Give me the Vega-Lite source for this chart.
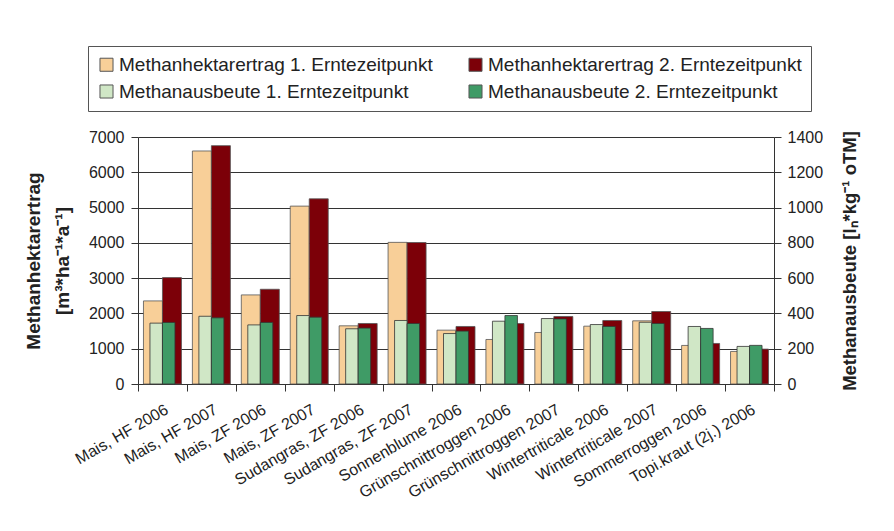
{
  "$schema": "https://vega.github.io/schema/vega-lite/v6.json",
  "width": 636,
  "height": 247,
  "autosize": {"type": "none"},
  "padding": {"left": 138, "top": 137, "right": 120, "bottom": 147},
  "background": "white",
  "config": {
    "font": "Liberation Sans",
    "view": {"stroke": null},
    "axis": {"labelFont": "Liberation Sans", "titleFont": "Liberation Sans", "labelColor": "#222", "titleColor": "#222", "domainColor": "#333", "tickColor": "#333"}
  },
  "data": {"values": [
    {"cat": "Mais, HF 2006", "series": "Methanhektarertrag 1. Erntezeitpunkt", "grp": "E", "value": 2355},
    {"cat": "Mais, HF 2006", "series": "Methanhektarertrag 2. Erntezeitpunkt", "grp": "E", "value": 3015},
    {"cat": "Mais, HF 2006", "series": "Methanausbeute 1. Erntezeitpunkt", "grp": "A", "value": 345},
    {"cat": "Mais, HF 2006", "series": "Methanausbeute 2. Erntezeitpunkt", "grp": "A", "value": 349},
    {"cat": "Mais, HF 2007", "series": "Methanhektarertrag 1. Erntezeitpunkt", "grp": "E", "value": 6604},
    {"cat": "Mais, HF 2007", "series": "Methanhektarertrag 2. Erntezeitpunkt", "grp": "E", "value": 6755},
    {"cat": "Mais, HF 2007", "series": "Methanausbeute 1. Erntezeitpunkt", "grp": "A", "value": 384},
    {"cat": "Mais, HF 2007", "series": "Methanausbeute 2. Erntezeitpunkt", "grp": "A", "value": 375},
    {"cat": "Mais, ZF 2006", "series": "Methanhektarertrag 1. Erntezeitpunkt", "grp": "E", "value": 2525},
    {"cat": "Mais, ZF 2006", "series": "Methanhektarertrag 2. Erntezeitpunkt", "grp": "E", "value": 2685},
    {"cat": "Mais, ZF 2006", "series": "Methanausbeute 1. Erntezeitpunkt", "grp": "A", "value": 335},
    {"cat": "Mais, ZF 2006", "series": "Methanausbeute 2. Erntezeitpunkt", "grp": "A", "value": 349},
    {"cat": "Mais, ZF 2007", "series": "Methanhektarertrag 1. Erntezeitpunkt", "grp": "E", "value": 5041},
    {"cat": "Mais, ZF 2007", "series": "Methanhektarertrag 2. Erntezeitpunkt", "grp": "E", "value": 5248},
    {"cat": "Mais, ZF 2007", "series": "Methanausbeute 1. Erntezeitpunkt", "grp": "A", "value": 388},
    {"cat": "Mais, ZF 2007", "series": "Methanausbeute 2. Erntezeitpunkt", "grp": "A", "value": 379},
    {"cat": "Sudangras, ZF 2006", "series": "Methanhektarertrag 1. Erntezeitpunkt", "grp": "E", "value": 1649},
    {"cat": "Sudangras, ZF 2006", "series": "Methanhektarertrag 2. Erntezeitpunkt", "grp": "E", "value": 1715},
    {"cat": "Sudangras, ZF 2006", "series": "Methanausbeute 1. Erntezeitpunkt", "grp": "A", "value": 313},
    {"cat": "Sudangras, ZF 2006", "series": "Methanausbeute 2. Erntezeitpunkt", "grp": "A", "value": 317},
    {"cat": "Sudangras, ZF 2007", "series": "Methanhektarertrag 1. Erntezeitpunkt", "grp": "E", "value": 4014},
    {"cat": "Sudangras, ZF 2007", "series": "Methanhektarertrag 2. Erntezeitpunkt", "grp": "E", "value": 4010},
    {"cat": "Sudangras, ZF 2007", "series": "Methanausbeute 1. Erntezeitpunkt", "grp": "A", "value": 360},
    {"cat": "Sudangras, ZF 2007", "series": "Methanausbeute 2. Erntezeitpunkt", "grp": "A", "value": 343},
    {"cat": "Sonnenblume 2006", "series": "Methanhektarertrag 1. Erntezeitpunkt", "grp": "E", "value": 1526},
    {"cat": "Sonnenblume 2006", "series": "Methanhektarertrag 2. Erntezeitpunkt", "grp": "E", "value": 1630},
    {"cat": "Sonnenblume 2006", "series": "Methanausbeute 1. Erntezeitpunkt", "grp": "A", "value": 286},
    {"cat": "Sonnenblume 2006", "series": "Methanausbeute 2. Erntezeitpunkt", "grp": "A", "value": 300},
    {"cat": "Grünschnittroggen 2006", "series": "Methanhektarertrag 1. Erntezeitpunkt", "grp": "E", "value": 1262},
    {"cat": "Grünschnittroggen 2006", "series": "Methanhektarertrag 2. Erntezeitpunkt", "grp": "E", "value": 1715},
    {"cat": "Grünschnittroggen 2006", "series": "Methanausbeute 1. Erntezeitpunkt", "grp": "A", "value": 356},
    {"cat": "Grünschnittroggen 2006", "series": "Methanausbeute 2. Erntezeitpunkt", "grp": "A", "value": 388},
    {"cat": "Grünschnittroggen 2007", "series": "Methanhektarertrag 1. Erntezeitpunkt", "grp": "E", "value": 1460},
    {"cat": "Grünschnittroggen 2007", "series": "Methanhektarertrag 2. Erntezeitpunkt", "grp": "E", "value": 1913},
    {"cat": "Grünschnittroggen 2007", "series": "Methanausbeute 1. Erntezeitpunkt", "grp": "A", "value": 371},
    {"cat": "Grünschnittroggen 2007", "series": "Methanausbeute 2. Erntezeitpunkt", "grp": "A", "value": 369},
    {"cat": "Wintertriticale 2006", "series": "Methanhektarertrag 1. Erntezeitpunkt", "grp": "E", "value": 1639},
    {"cat": "Wintertriticale 2006", "series": "Methanhektarertrag 2. Erntezeitpunkt", "grp": "E", "value": 1800},
    {"cat": "Wintertriticale 2006", "series": "Methanausbeute 1. Erntezeitpunkt", "grp": "A", "value": 337},
    {"cat": "Wintertriticale 2006", "series": "Methanausbeute 2. Erntezeitpunkt", "grp": "A", "value": 326},
    {"cat": "Wintertriticale 2007", "series": "Methanhektarertrag 1. Erntezeitpunkt", "grp": "E", "value": 1790},
    {"cat": "Wintertriticale 2007", "series": "Methanhektarertrag 2. Erntezeitpunkt", "grp": "E", "value": 2054},
    {"cat": "Wintertriticale 2007", "series": "Methanausbeute 1. Erntezeitpunkt", "grp": "A", "value": 350},
    {"cat": "Wintertriticale 2007", "series": "Methanausbeute 2. Erntezeitpunkt", "grp": "A", "value": 343},
    {"cat": "Sommerroggen 2006", "series": "Methanhektarertrag 1. Erntezeitpunkt", "grp": "E", "value": 1093},
    {"cat": "Sommerroggen 2006", "series": "Methanhektarertrag 2. Erntezeitpunkt", "grp": "E", "value": 1149},
    {"cat": "Sommerroggen 2006", "series": "Methanausbeute 1. Erntezeitpunkt", "grp": "A", "value": 326},
    {"cat": "Sommerroggen 2006", "series": "Methanausbeute 2. Erntezeitpunkt", "grp": "A", "value": 315},
    {"cat": "Topi.kraut (2j.) 2006", "series": "Methanhektarertrag 1. Erntezeitpunkt", "grp": "E", "value": 923},
    {"cat": "Topi.kraut (2j.) 2006", "series": "Methanhektarertrag 2. Erntezeitpunkt", "grp": "E", "value": 989},
    {"cat": "Topi.kraut (2j.) 2006", "series": "Methanausbeute 1. Erntezeitpunkt", "grp": "A", "value": 213},
    {"cat": "Topi.kraut (2j.) 2006", "series": "Methanausbeute 2. Erntezeitpunkt", "grp": "A", "value": 219}
  ]},
  "encoding": {
    "x": {
      "field": "cat", "type": "nominal", "sort": null,
      "scale": {"paddingInner": 0, "paddingOuter": 0},
      "axis": {"title": null, "labelAngle": -30, "labelAlign": "right", "labelBaseline": "top", "labelFontSize": 16, "labelPadding": 10, "tickBand": "extent", "tickSize": 7, "domainColor": "#333", "labelLimit": 300}
    },
    "color": {
      "field": "series", "type": "nominal",
      "scale": {
        "domain": ["Methanhektarertrag 1. Erntezeitpunkt", "Methanhektarertrag 2. Erntezeitpunkt", "Methanausbeute 1. Erntezeitpunkt", "Methanausbeute 2. Erntezeitpunkt"],
        "range": ["#f8cf98", "#7c0008", "#d0e7c6", "#3f9b66"]
      },
      "legend": {
        "title": null, "orient": "none", "legendX": -50, "legendY": -91, "columns": 2, "direction": "horizontal",
        "symbolType": "square", "symbolSize": 170, "symbolStrokeColor": "#555", "symbolStrokeWidth": 1,
        "labelFontSize": 19, "labelColor": "#222", "labelLimit": 400, "labelOffset": 3,
        "columnPadding": 33, "rowPadding": 7, "padding": 9,
        "strokeColor": "#555", "fillColor": "white"
      }
    }
  },
  "layer": [
    {
      "transform": [{"filter": "datum.grp == 'E'"}],
      "mark": {"type": "bar", "stroke": "#555", "strokeWidth": 0.8},
      "encoding": {
        "xOffset": {"field": "series", "type": "nominal", "sort": null, "scale": {"paddingInner": 0, "paddingOuter": 0.287}},
        "y": {
          "field": "value", "type": "quantitative",
          "scale": {"domain": [0, 7000], "nice": false},
          "axis": {"title": ["Methanhektarertrag", "[m³*ha⁻¹*a⁻¹]"], "titleFontSize": 19, "titleFontWeight": "bold", "titleLineHeight": 29, "titlePadding": 16, "values": [0,1000,2000,3000,4000,5000,6000,7000], "format": "d", "labelFontSize": 16, "tickSize": 7, "labelPadding": 7, "grid": true, "gridColor": "#333", "gridWidth": 1}
        }
      }
    },
    {
      "transform": [{"filter": "datum.grp == 'A'"}],
      "mark": {"type": "bar", "stroke": "#333", "strokeWidth": 0.8},
      "encoding": {
        "xOffset": {"field": "series", "type": "nominal", "sort": null, "scale": {"paddingInner": 0, "paddingOuter": 0.957}},
        "y": {
          "field": "value", "type": "quantitative",
          "scale": {"domain": [0, 1400], "nice": false},
          "axis": {"orient": "right", "title": "Methanausbeute [lₙ*kg⁻¹ oTM]", "titleAngle": 270, "titleBaseline": "top", "titleFontSize": 18.5, "titleFontWeight": "bold", "titlePadding": 18, "values": [0,200,400,600,800,1000,1200,1400], "format": "d", "labelFontSize": 16, "tickSize": 7, "labelPadding": 6, "grid": false}
        }
      }
    }
  ],
  "resolve": {"scale": {"y": "independent", "xOffset": "independent"}}
}
